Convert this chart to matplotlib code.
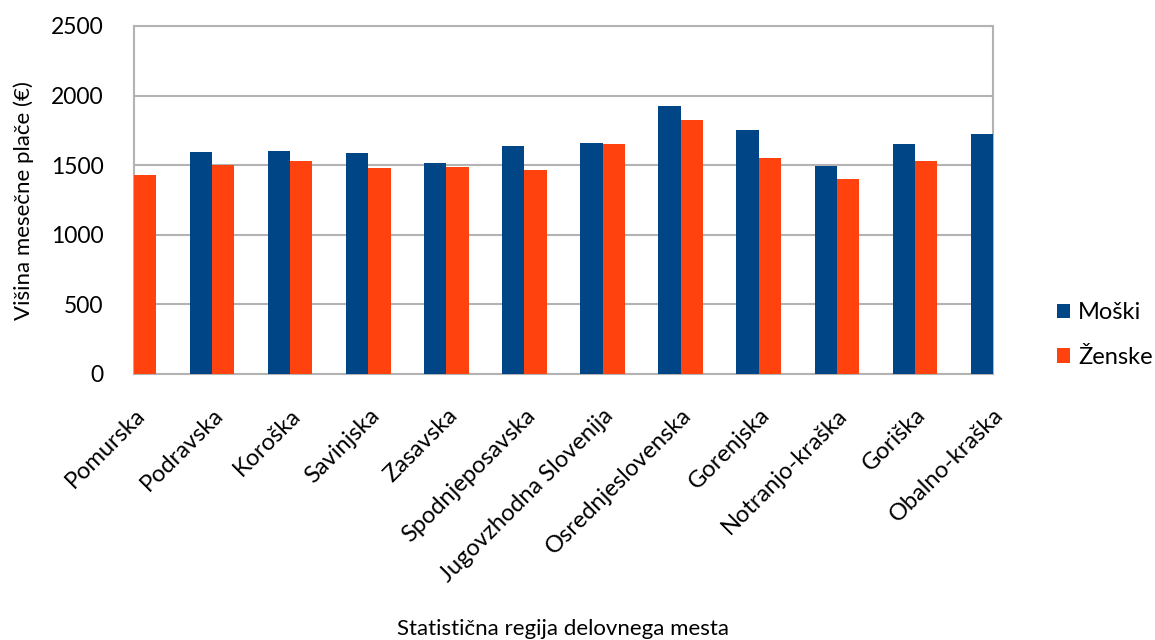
import matplotlib
matplotlib.use("Agg")
import matplotlib.pyplot as plt
import numpy as np

plt.rcParams['font.family'] = ['Lato', 'DejaVu Sans']

regions = ["Pomurska", "Podravska", "Koroška", "Savinjska", "Zasavska",
           "Spodnjeposavska", "Jugovzhodna Slovenija", "Osrednjeslovenska",
           "Gorenjska", "Notranjo-kraška", "Goriška", "Obalno-kraška"]
moski = [1500, 1593, 1602, 1588, 1518, 1640, 1659, 1925, 1751, 1497, 1652, 1724]
zenske = [1430, 1500, 1528, 1477, 1485, 1468, 1655, 1825, 1549, 1401, 1530, 1624]
yticks = [0, 500, 1000, 1500, 2000, 2500]

fig = plt.figure(figsize=(11.55, 6.4), dpi=100)
ax = fig.add_axes([134/1155, 1-374/640, (993-134)/1155, (374-26)/640])

x = np.arange(len(regions))
w = 0.285
ax.bar(x - w/2, moski, w, color="#004586", label="Moški", zorder=3)
ax.bar(x + w/2, zenske, w, color="#ff420e", label="Ženske", zorder=3)

ax.set_xlim(0, len(regions) - 1)
ax.set_ylim(0, 2500)
ax.set_yticks(yticks)
ax.set_yticklabels([str(v) for v in yticks], fontsize=16.5)
ax.set_xticks(x)
ax.set_xticklabels(regions, rotation=45, ha="right", rotation_mode="anchor", fontsize=17)
ax.tick_params(axis="both", length=0)
ax.tick_params(axis="y", pad=22)
ax.tick_params(axis="x", pad=22)
ax.yaxis.grid(True, color="#b3b3b3", linewidth=1.5, zorder=0)
for s in ax.spines.values():
    s.set_color("#b3b3b3")
    s.set_linewidth(1.5)

ax.set_ylabel("Višina mesečne plače (€)", fontsize=16)
ax.yaxis.set_label_coords(-100/859, 0.497)
fig.text(563/1155, 1-629/640, "Statistična regija delovnega mesta", fontsize=16,
         ha="center", va="center")

leg = fig.legend(loc="center left", bbox_to_anchor=(1057/1155, 1-335/640),
                 frameon=False, fontsize=17, handlelength=0.55, handleheight=0.55,
                 handletextpad=0.35, labelspacing=1.0, borderaxespad=0, borderpad=0)

fig.savefig("out.png", dpi=100)
